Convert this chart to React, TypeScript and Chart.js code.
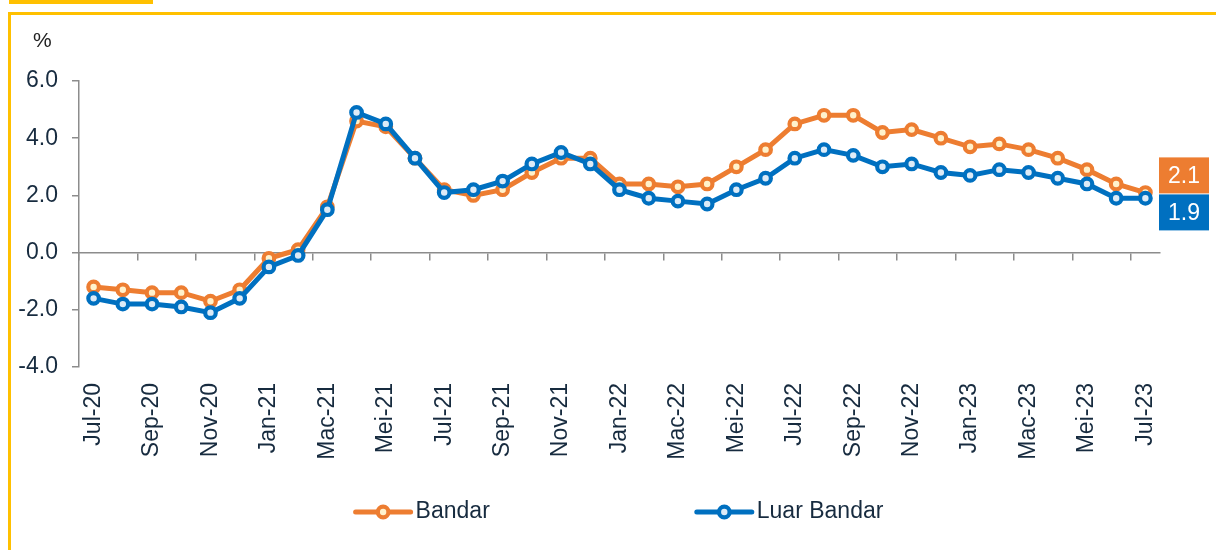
import React, { useEffect, useRef } from 'react';
import { Chart, registerables } from 'chart.js';

Chart.register(...registerables);

const months = [
  'Jul-20', 'Ogo-20', 'Sep-20', 'Okt-20', 'Nov-20', 'Dis-20',
  'Jan-21', 'Feb-21', 'Mac-21', 'Apr-21', 'Mei-21', 'Jun-21', 'Jul-21', 'Ogo-21', 'Sep-21', 'Okt-21', 'Nov-21', 'Dis-21',
  'Jan-22', 'Feb-22', 'Mac-22', 'Apr-22', 'Mei-22', 'Jun-22', 'Jul-22', 'Ogo-22', 'Sep-22', 'Okt-22', 'Nov-22', 'Dis-22',
  'Jan-23', 'Feb-23', 'Mac-23', 'Apr-23', 'Mei-23', 'Jun-23', 'Jul-23',
];

const bandar = [
  -1.2, -1.3, -1.4, -1.4, -1.7, -1.3,
  -0.2, 0.1, 1.6, 4.6, 4.4, 3.3, 2.2, 2.0, 2.2, 2.8, 3.3, 3.3,
  2.4, 2.4, 2.3, 2.4, 3.0, 3.6, 4.5, 4.8, 4.8, 4.2, 4.3, 4.0,
  3.7, 3.8, 3.6, 3.3, 2.9, 2.4, 2.1,
];

const luarBandar = [
  -1.6, -1.8, -1.8, -1.9, -2.1, -1.6,
  -0.5, -0.1, 1.5, 4.9, 4.5, 3.3, 2.1, 2.2, 2.5, 3.1, 3.5, 3.1,
  2.2, 1.9, 1.8, 1.7, 2.2, 2.6, 3.3, 3.6, 3.4, 3.0, 3.1, 2.8,
  2.7, 2.9, 2.8, 2.6, 2.4, 1.9, 1.9,
];

const seriesNames = ['Bandar', 'Luar Bandar'];
const yMin = -4;
const yMax = 6;
const yStep = 2;
const unitLabel = '%';

const ORANGE = '#ED7D31';
const ORANGE_FILL = '#FFF2CC';
const BLUE = '#0070C0';
const BLUE_FILL = '#DDEBF7';
const AXIS = '#8c8c8c';
const TEXT = '#172b3f';
const FONT = '"Liberation Sans", Arial, sans-serif';

const extrasPlugin = {
  id: 'extras',
  afterDraw(chart: any) {
    const { ctx, chartArea, scales } = chart;
    const y = scales.y;
    ctx.save();

    // unit label
    ctx.fillStyle = '#222';
    ctx.font = `21px ${FONT}`;
    ctx.textAlign = 'left';
    ctx.textBaseline = 'middle';
    ctx.fillText(unitLabel, 33, 41);

    // last value boxes
    const ds = chart.data.datasets;
    const lastVals = ds.map((d: any) => d.data[d.data.length - 1]);
    const avg = lastVals.reduce((a: number, b: number) => a + b, 0) / lastVals.length;
    const boundary = y.getPixelForValue(avg) - 2;
    const bx = chartArea.right - 1;
    const bw = 50;
    const bh = 36;
    ds.forEach((d: any, i: number) => {
      const top = i === 0 ? boundary - bh : boundary + 1;
      ctx.fillStyle = d.borderColor;
      ctx.fillRect(bx, top, bw, bh);
      ctx.fillStyle = '#ffffff';
      ctx.font = `23px ${FONT}`;
      ctx.textAlign = 'center';
      ctx.textBaseline = 'middle';
      ctx.fillText(lastVals[i].toFixed(1), bx + bw / 2, top + bh / 2 + 1);
    });

    // legend
    const ly = 512;
    const sample = 55;
    const gapText = 5;
    const gapItems = 207;
    ctx.font = `23px ${FONT}`;
    const widths = ds.map((d: any) => sample + gapText + ctx.measureText(d.label).width);
    const total = widths.reduce((a: number, b: number) => a + b, 0) + gapItems * (ds.length - 1);
    let lx = (chartArea.left + chartArea.right) / 2 - total / 2;
    ds.forEach((d: any, i: number) => {
      ctx.strokeStyle = d.borderColor;
      ctx.lineWidth = d.borderWidth;
      ctx.lineCap = 'round';
      ctx.beginPath();
      ctx.moveTo(lx, ly);
      ctx.lineTo(lx + sample, ly);
      ctx.stroke();
      ctx.beginPath();
      ctx.arc(lx + sample / 2, ly, d.pointRadius, 0, Math.PI * 2);
      ctx.fillStyle = d.pointBackgroundColor;
      ctx.fill();
      ctx.lineWidth = d.pointBorderWidth;
      ctx.strokeStyle = d.pointBorderColor;
      ctx.stroke();
      ctx.fillStyle = TEXT;
      ctx.textAlign = 'left';
      ctx.textBaseline = 'middle';
      ctx.fillText(d.label, lx + sample + gapText, ly);
      lx += widths[i] + gapItems;
    });

    ctx.restore();
  },
};

export default function App() {
  const ref = useRef<HTMLCanvasElement | null>(null);

  useEffect(() => {
    if (!ref.current) return;
    const chart = new Chart(ref.current, {
      type: 'line',
      data: {
        labels: months,
        datasets: [
          {
            label: seriesNames[0],
            data: bandar,
            borderColor: ORANGE,
            backgroundColor: ORANGE_FILL,
            borderWidth: 5,
            pointRadius: 5.3,
            pointBorderWidth: 4.2,
            pointBackgroundColor: ORANGE_FILL,
            pointBorderColor: ORANGE,
            tension: 0,
            order: 1,
          },
          {
            label: seriesNames[1],
            data: luarBandar,
            borderColor: BLUE,
            backgroundColor: BLUE_FILL,
            borderWidth: 5,
            pointRadius: 5.3,
            pointBorderWidth: 4.2,
            pointBackgroundColor: BLUE_FILL,
            pointBorderColor: BLUE,
            tension: 0,
            order: 0,
          },
        ],
      },
      options: {
        animation: false,
        responsive: false,
        devicePixelRatio: 1,
        layout: { padding: { top: 81, right: 56, bottom: 83, left: 0 } },
        plugins: {
          legend: { display: false },
          tooltip: { enabled: false },
        },
        scales: {
          x: {
            type: 'category',
            position: 'bottom',
            offset: true,
            grid: { display: false, drawTicks: false },
            border: { display: false },
            ticks: {
              autoSkip: false,
              minRotation: 90,
              maxRotation: 90,
              padding: 16,
              color: TEXT,
              font: { family: FONT, size: 23 },
              callback: (_v: any, i: number) => (i % 2 === 0 ? months[i] : ''),
            },
            afterFit: (s: any) => {
              s.height = 100;
            },
          },
          x0: {
            type: 'category',
            axis: 'x',
            position: { y: 0 },
            offset: true,
            grid: {
              offset: true,
              drawOnChartArea: false,
              drawTicks: true,
              tickLength: 7,
              lineWidth: 1.5,
              color: (c: any) => (c.index !== undefined && c.index % 2 === 0 ? AXIS : 'rgba(0,0,0,0)'),
            },
            border: { display: true, color: AXIS, width: 1.5 },
            ticks: { display: false },
          },
          y: {
            min: yMin,
            max: yMax,
            position: 'left',
            grid: {
              drawOnChartArea: false,
              drawTicks: true,
              tickLength: 7,
              lineWidth: 1.5,
              color: AXIS,
            },
            border: { display: true, color: AXIS, width: 1.5 },
            ticks: {
              stepSize: yStep,
              padding: 14,
              color: TEXT,
              font: { family: FONT, size: 23 },
              callback: (v: any) => Number(v).toFixed(1),
            },
            afterFit: (s: any) => {
              s.width = 79;
            },
          },
        },
      } as any,
      plugins: [extrasPlugin],
    });
    return () => chart.destroy();
  }, []);

  return (
    <div style={{ position: 'absolute', left: 0, top: 0, width: 1216, height: 550, overflow: 'hidden', background: '#fff' }}>
      <div style={{ position: 'absolute', left: 9, top: 0, width: 144, height: 4, background: '#FFC000' }} />
      <div
        style={{
          position: 'absolute',
          left: 8,
          top: 12,
          width: 1260,
          height: 600,
          border: '3px solid #FFC000',
          boxSizing: 'border-box',
        }}
      />
      <canvas ref={ref} width={1216} height={550} style={{ position: 'absolute', left: 0, top: 0, width: 1216, height: 550, display: 'block' }} />
    </div>
  );
}
